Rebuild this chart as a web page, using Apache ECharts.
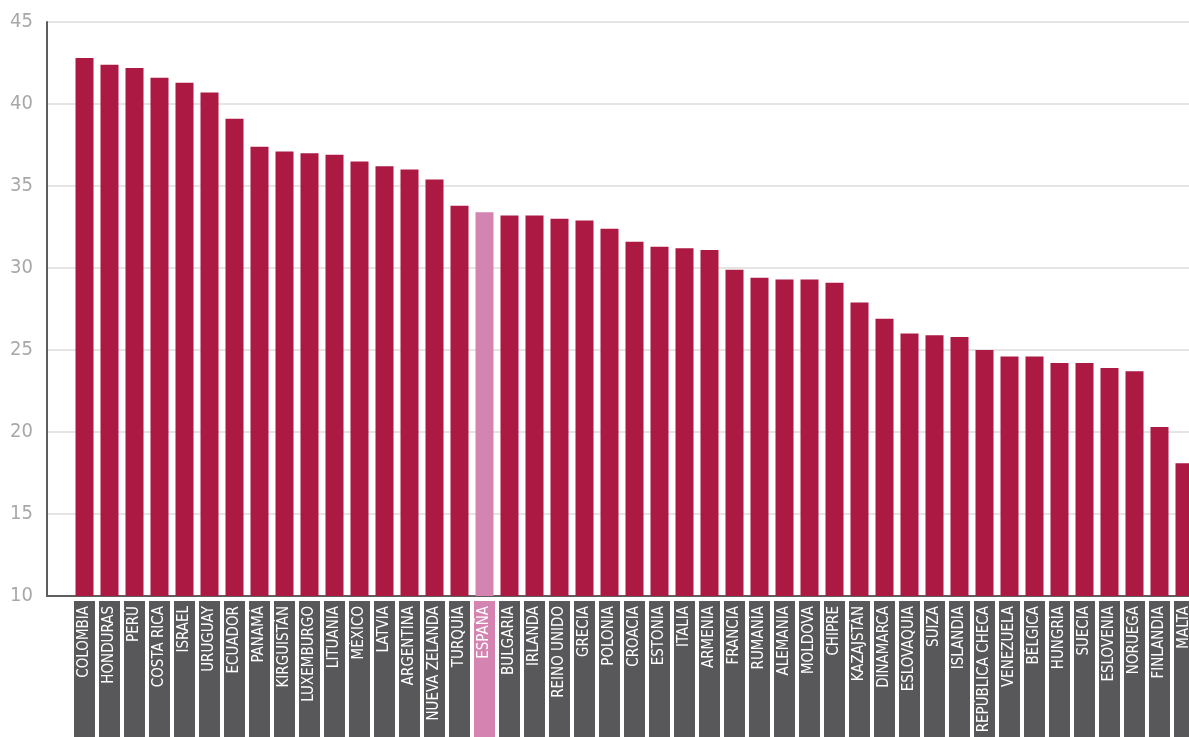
<!DOCTYPE html>
<html>
<head>
<meta charset="utf-8">
<script src="https://cdn.jsdelivr.net/npm/echarts@6/dist/echarts.min.js"></script>
<style>
  html, body { margin: 0; padding: 0; background: #fff; }
  #chart { width: 1189px; height: 737px; }
</style>
</head>
<body>
<div id="chart"></div>
<script>
// países ordenados de mayor a menor
const countries = [
  'COLOMBIA', 'HONDURAS', 'PERÚ', 'COSTA RICA', 'ISRAEL', 'URUGUAY', 'ECUADOR', 'PANAMÁ',
  'KIRGUISTÁN', 'LUXEMBURGO', 'LITUANIA', 'MÉXICO', 'LATVIA', 'ARGENTINA', 'NUEVA ZELANDA',
  'TURQUÍA', 'ESPAÑA', 'BULGARIA', 'IRLANDA', 'REINO UNIDO', 'GRECIA', 'POLONIA', 'CROACIA',
  'ESTONIA', 'ITALIA', 'ARMENIA', 'FRANCIA', 'RUMANÍA', 'ALEMANIA', 'MOLDOVA', 'CHIPRE',
  'KAZAJSTÁN', 'DINAMARCA', 'ESLOVAQUIA', 'SUIZA', 'ISLANDIA', 'REPÚBLICA CHECA', 'VENEZUELA',
  'BÉLGICA', 'HUNGRÍA', 'SUECIA', 'ESLOVENIA', 'NORUEGA', 'FINLANDIA', 'MALTA'
]
const values = [
  42.8, 42.4, 42.2, 41.6, 41.3, 40.7, 39.1, 37.4,
  37.1, 37.0, 36.9, 36.5, 36.2, 36.0, 35.4,
  33.8, 33.4, 33.2, 33.2, 33.0, 32.9, 32.4, 31.6,
  31.3, 31.2, 31.1, 29.9, 29.4, 29.3, 29.3, 29.1,
  27.9, 26.9, 26.0, 25.9, 25.8, 25.0, 24.6,
  24.6, 24.2, 24.2, 23.9, 23.7, 20.3, 18.1
]
const highlight = 'ESPAÑA'
const yTicks = { min: 10, max: 45, interval: 5 }

const barColor = '#ac1943'
const highlightColor = '#d583b1'
const boxColor = '#58585a'

// hueco vacío antes de la primera barra
const axisData = [{ value: '', textStyle: { backgroundColor: 'transparent' } }]
countries.forEach(c => {
  if (c === highlight) {
    axisData.push({ value: c, textStyle: { backgroundColor: highlightColor } })
  } else {
    axisData.push(c)
  }
})
const seriesData = [null].concat(values)

const chart = echarts.init(document.getElementById('chart'))
const option = {
  animation: false,
  grid: {
    left: 47, right: -8, top: 22, bottom: 141,
    containLabel: false,
    outerBoundsMode: 'none'
  },
  xAxis: {
    type: 'category',
    data: axisData,
    axisLine: { show: true, lineStyle: { color: '#5e5e5e', width: 2 } },
    axisTick: { show: false },
    axisLabel: {
      interval: 0,
      rotate: 90,
      margin: 5,
      color: '#fff',
      fontSize: 15,
      fontFamily: "'Liberation Sans Narrow', 'DejaVu Sans Condensed', sans-serif",
      backgroundColor: boxColor,
      width: 160,
      height: 21,
      lineHeight: 21,
      padding: [0, 5, 0, 0],
      align: 'right'
    }
  },
  yAxis: {
    type: 'value',
    min: yTicks.min,
    max: yTicks.max,
    interval: yTicks.interval,
    axisLine: { show: true, lineStyle: { color: '#5e5e5e', width: 2 } },
    axisTick: { show: false },
    splitLine: { lineStyle: { color: '#dcdcdc', width: 1.5 } },
    axisLabel: {
      color: '#a8a8a8',
      fontSize: 20,
      margin: 14,
      fontFamily: "'DejaVu Sans Condensed', sans-serif",
      fontWeight: 200
    }
  },
  series: [{
    type: 'bar',
    data: seriesData,
    barWidth: 18,
    itemStyle: {
      color: p => (p.name === highlight ? highlightColor : barColor)
    }
  }]
}
chart.setOption(option)
</script>
</body>
</html>
